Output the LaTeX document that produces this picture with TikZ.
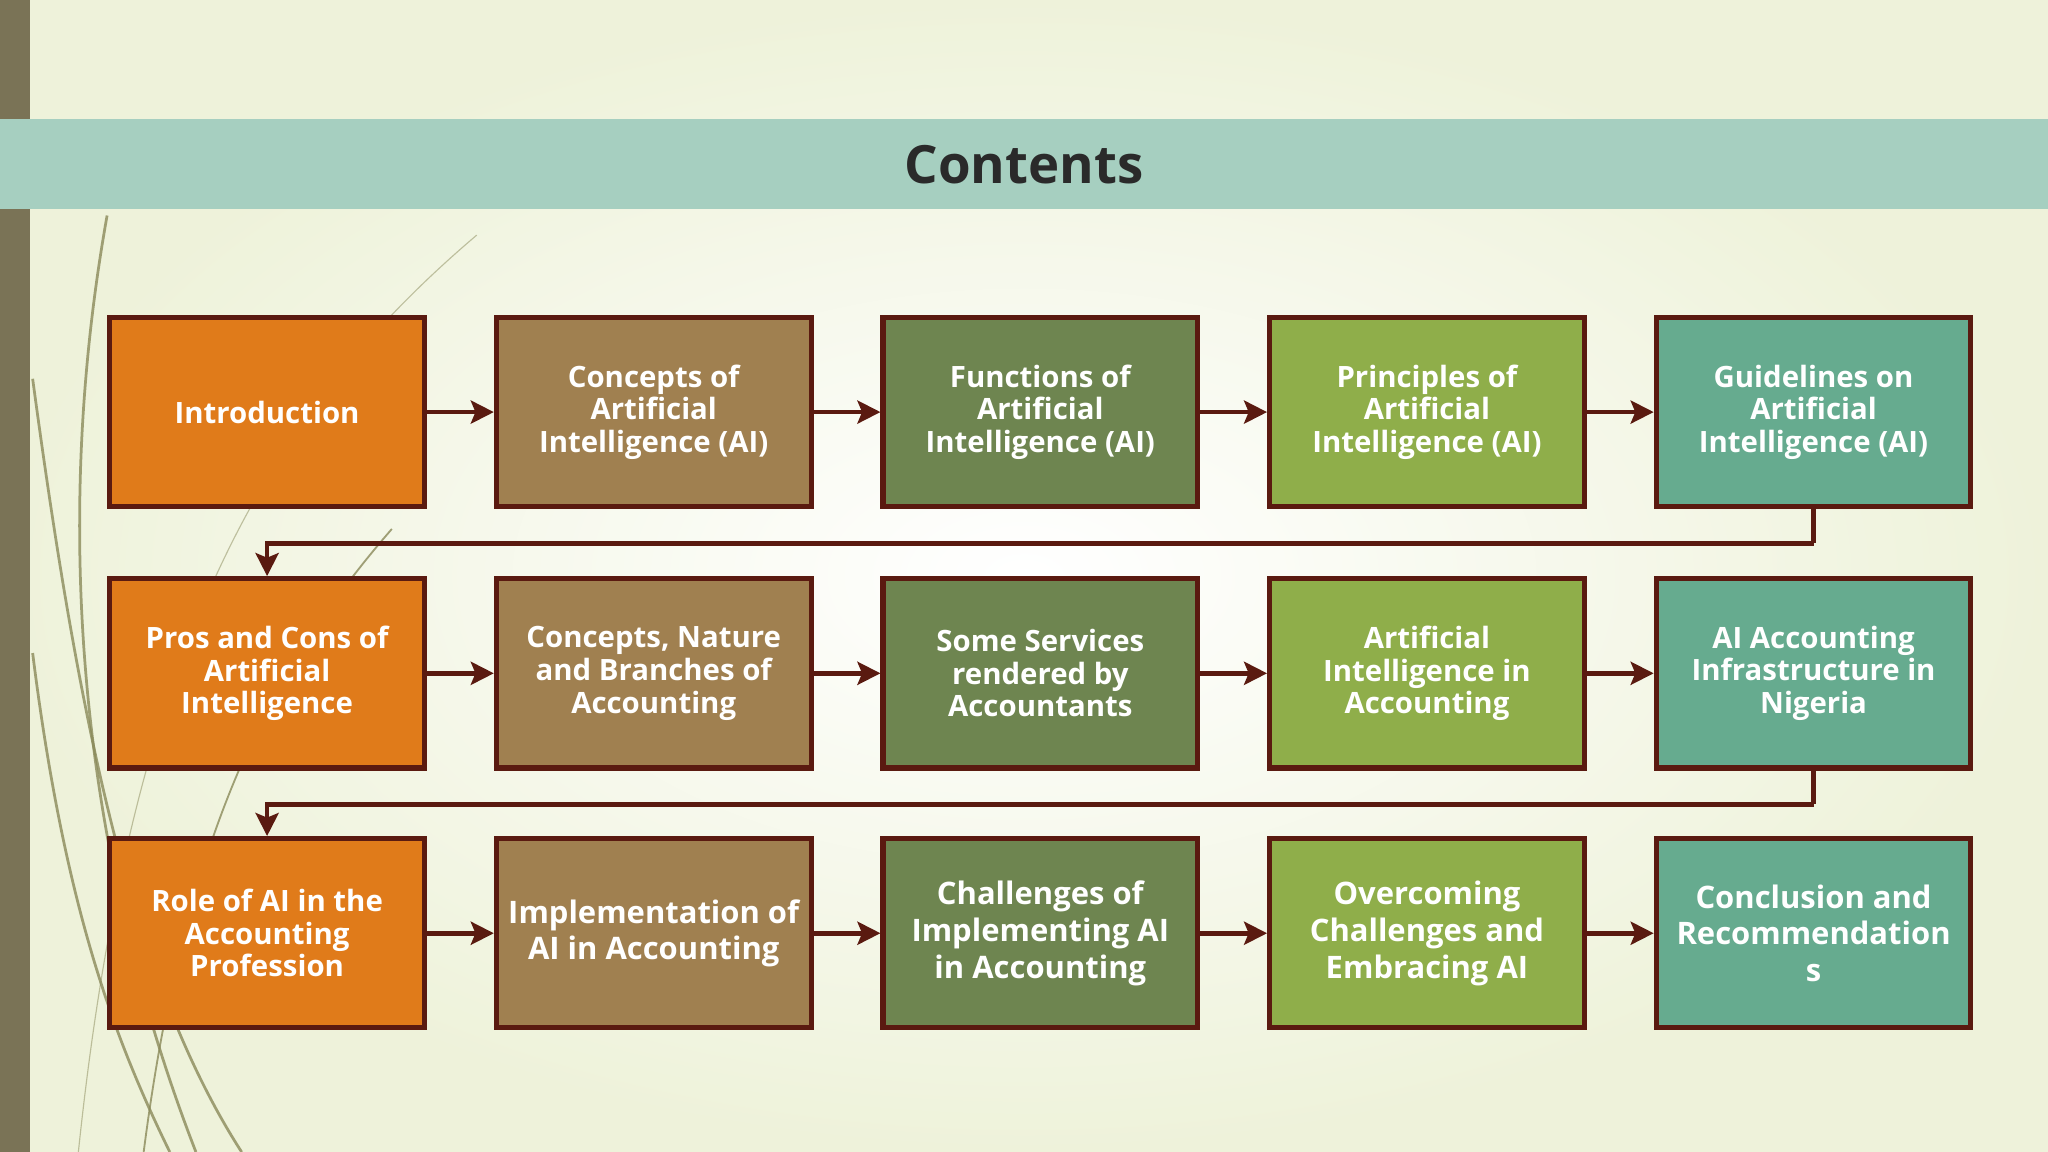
\documentclass[tikz,border=0pt]{standalone}
\usepackage{fontspec}
\setmainfont{Open Sans}
\usetikzlibrary{arrows.meta}
\definecolor{bgc}{HTML}{EEF2DA}
\definecolor{bar}{HTML}{7A7356}
\definecolor{band}{HTML}{A6CFC0}
\definecolor{edge}{HTML}{5A1A10}
\definecolor{cOr}{HTML}{E07B1A}
\definecolor{cBr}{HTML}{A08050}
\definecolor{cDg}{HTML}{6E8550}
\definecolor{cLg}{HTML}{8FAE4A}
\definecolor{cTe}{HTML}{66AB8F}
\definecolor{grass}{HTML}{8A8A5A}
\tikzset{
 box/.style={draw=edge,line width=2.2pt,minimum width=4.82cm,minimum height=2.9cm,align=center,text=white,font=\fontsize{12.8}{14.2}\selectfont\bfseries,inner sep=0pt},
 big/.style={font=\fontsize{13.5}{16}\selectfont\bfseries},
 arr/.style={-{Stealth[length=10pt,width=10pt,inset=2pt]},draw=edge,line width=2pt},
 lnk/.style={draw=edge,line width=2pt}
}
\begin{document}
\begin{tikzpicture}[x=0.02cm,y=-0.02cm]
\useasboundingbox (0,0) rectangle (1568,882);
\shade[inner color=white,outer color=bgc] (0,0) rectangle (1568,882);
\fill[bar] (0,0) rectangle (23,882);
\begin{scope}[line width=1.2pt,grass,opacity=0.8]
\draw (82,165) .. controls (40,400) and (60,650) .. (150,882);
\draw (25,290) .. controls (60,550) and (100,750) .. (185,882);
\draw (25,500) .. controls (50,700) and (90,800) .. (130,882);
\draw[line width=0.5pt,opacity=0.5] (365,180) .. controls (200,320) and (100,500) .. (60,882);
\draw[line width=0.8pt] (300,405) .. controls (200,520) and (140,650) .. (110,882);
\end{scope}
\fill[band] (0,91) rectangle (1568,160);
\node (title) at (784,126) {\fontsize{23}{23}\selectfont\bfseries\color[HTML]{2A2A2A}Contents};
\node[box,fill=cOr] (a1) at (204.5,315.5) {Introduction};
\node[box,fill=cBr] (a2) at (500.5,315.5) {Concepts of\\Artificial\\Intelligence (AI)};
\node[box,fill=cDg] (a3) at (796.5,315.5) {Functions of\\Artificial\\Intelligence (AI)};
\node[box,fill=cLg] (a4) at (1092.5,315.5) {Principles of\\Artificial\\Intelligence (AI)};
\node[box,fill=cTe] (a5) at (1388.5,315.5) {Guidelines on\\Artificial\\Intelligence (AI)};
\node[box,fill=cOr] (b1) at (204.5,515.5) {Pros and Cons of\\Artificial\\Intelligence};
\node[box,fill=cBr] (b2) at (500.5,515.5) {Concepts, Nature\\and Branches of\\Accounting};
\node[box,fill=cDg] (b3) at (796.5,515.5) {Some Services\\rendered by\\Accountants};
\node[box,fill=cLg] (b4) at (1092.5,515.5) {Artificial\\Intelligence in\\Accounting};
\node[box,fill=cTe] (b5) at (1388.5,515.5) {AI Accounting\\Infrastructure in\\Nigeria};
\node[box,fill=cOr] (c1) at (204.5,714.5) {Role of AI in the\\Accounting\\Profession};
\node[box,big,fill=cBr] (c2) at (500.5,714.5) {Implementation of\\AI in Accounting};
\node[box,big,fill=cDg] (c3) at (796.5,714.5) {Challenges of\\Implementing AI\\in Accounting};
\node[box,big,fill=cLg] (c4) at (1092.5,714.5) {Overcoming\\Challenges and\\Embracing AI};
\node[box,big,fill=cTe] (c5) at (1388.5,714.5) {Conclusion and\\Recommendation\\s};
\foreach \r in {a,b,c}{
 \draw[arr] (\r1.east) -- (\r2.west);
 \draw[arr] (\r2.east) -- (\r3.west);
 \draw[arr] (\r3.east) -- (\r4.west);
 \draw[arr] (\r4.east) -- (\r5.west);
}
\draw[lnk] (a5.south) -- ++(0,26) coordinate (k1);
\draw[arr] (k1) -| (b1.north);
\draw[lnk] (b5.south) -- ++(0,26) coordinate (k2);
\draw[arr] (k2) -| (c1.north);
\end{tikzpicture}
\end{document}
